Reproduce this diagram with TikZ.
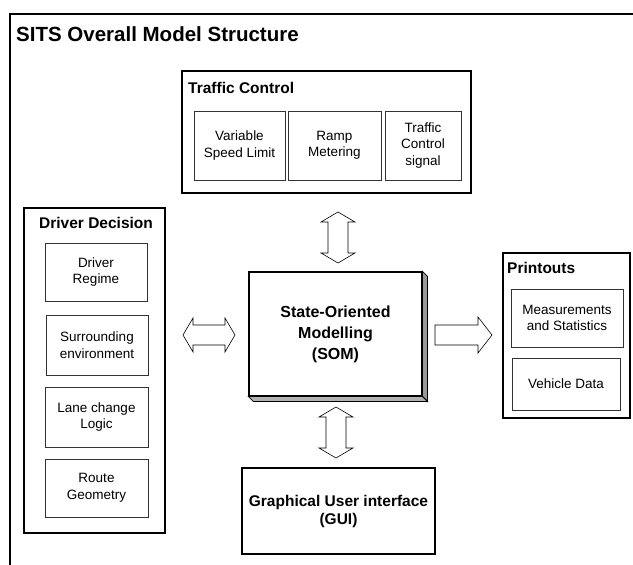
\documentclass[tikz,border=0pt]{standalone}
\usepackage{fontspec}
\setmainfont{Liberation Sans}
\usetikzlibrary{calc}
\newcommand\vdarrow[2]{%
  \draw[blockarrow] (#1) -- ++(17,10) -- ++(-7,0) -- ($(#2)+(10,-10)$) -- ++(7,0) -- (#2)
    -- ++(-17,-10) -- ++(7,0) -- ($(#1)+(-10,10)$) -- ++(-7,0) -- cycle;}
\newcommand\hdarrow[2]{%
  \draw[blockarrow] (#1) -- ++(10,-17) -- ++(0,7) -- ($(#2)+(-10,-10)$) -- ++(0,-7) -- (#2)
    -- ++(-10,17) -- ++(0,-7) -- ($(#1)+(10,10)$) -- ++(0,7) -- cycle;}
\begin{document}
\begin{tikzpicture}[x=1pt,y=-1pt,
  box/.style={draw=black, line width=1.1pt, fill=white, inner sep=0pt},
  sub/.style={draw=black!80, line width=0.9pt, fill=white, inner sep=0pt, align=center,
              font=\fontsize{13.5}{16.5}\selectfont},
  sectitle/.style={anchor=west, inner sep=0pt, font=\bfseries\fontsize{15.5}{18}\selectfont},
  blockarrow/.style={draw=black, line width=0.6pt, fill=white, line join=miter}]
\useasboundingbox (0,0) rectangle (633,565);
% outer frame
\coordinate (fl) at (10,565);
\coordinate (fc) at (10,14);
\coordinate (fr) at (633,14);
\draw[line width=1.8pt] (fl) -- (fc) -- (fr);
\node[anchor=west, inner sep=0pt, font=\bfseries\fontsize{20.5}{24}\selectfont] (title) at (16,34) {SITS Overall Model Structure};

% Traffic control
\node[box, minimum width=289pt, minimum height=122pt] (tc) at (326.5,132) {};
\node[sectitle] (tct) at (188,88) {Traffic Control};
\node[sub, minimum width=91pt, minimum height=69pt] (vsl) at (239.5,145.5) {Variable\\Speed Limit};
\node[sub, minimum width=93pt, minimum height=69pt] (rm) at (334.5,145.5) {Ramp\\Metering};
\node[sub, minimum width=76pt, minimum height=69pt] (tcs) at (423,145.5) {Traffic\\Control\\signal};

% Driver decision
\node[box, minimum width=141pt, minimum height=325pt] (dd) at (94.5,370.5) {};
\node[sectitle] (ddt) at (39,223) {Driver Decision};
\node[sub, minimum width=102pt, minimum height=58pt] (dr) at (96,272) {Driver\\Regime};
\node[sub, minimum width=102pt, minimum height=60pt] (se) at (97,345) {Surrounding\\environment};
\node[sub, minimum width=103pt, minimum height=60pt] (lc) at (96.5,417) {Lane change\\Logic};
\node[sub, minimum width=103pt, minimum height=58pt] (rg) at (96.5,488) {Route\\Geometry};

% SOM
\node[box, minimum width=173pt, minimum height=124pt, align=center,
      font=\bfseries\fontsize{16}{21}\selectfont] (som) at (335.5,334) {State-Oriented\\Modelling\\(SOM)};
\draw[line width=0.8pt, fill=black!40] (som.north east) -- ++(5,5) -- ($(som.south east)+(5,5)$) -- (som.south east) -- cycle;
\draw[line width=0.8pt, fill=black!30] (som.south west) -- ++(5,5) -- ($(som.south east)+(5,5)$) -- (som.south east) -- cycle;

% Printouts
\node[box, minimum width=127pt, minimum height=165pt] (pr) at (566.5,335.5) {};
\node[sectitle] (prt) at (507,268) {Printouts};
\node[sub, minimum width=112pt, minimum height=58pt] (ms) at (567,318) {Measurements\\and Statistics};
\node[sub, minimum width=108pt, minimum height=52pt] (vd) at (566,384) {Vehicle Data};

% GUI
\node[box, minimum width=193pt, minimum height=86pt, align=center,
      font=\bfseries\fontsize{15.5}{18}\selectfont] (gui) at (338.5,511) {Graphical User interface\\(GUI)};

% block arrows
\coordinate (a1) at (338,212);
\coordinate (a2) at (338,263);
\vdarrow{a1}{a2}
\coordinate (b1) at (336,407);
\coordinate (b2) at (336,458);
\vdarrow{b1}{b2}
\coordinate (c1) at (183,335);
\coordinate (c2) at (235,335);
\hdarrow{c1}{c2}
\coordinate (d1) at (435,335);
\coordinate (d2) at (492,335);
\draw[blockarrow] ($(d1)+(0,-10)$) -- ($(d2)+(-14,-10)$) -- ++(0,-8) -- (d2) -- ++(-14,18)
  -- ++(0,-8) -- ($(d1)+(0,10)$) -- cycle;
\end{tikzpicture}
\end{document}
